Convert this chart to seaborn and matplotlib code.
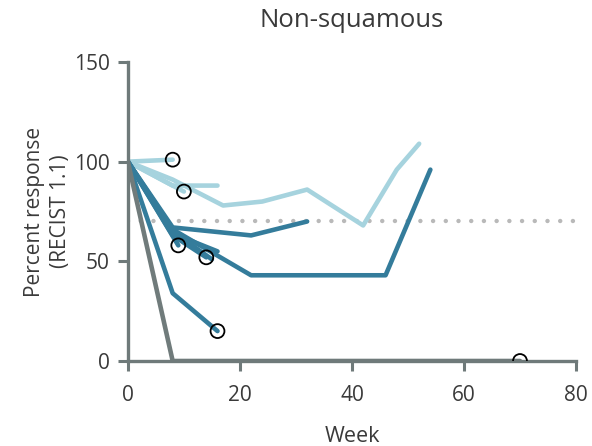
import numpy as np
import pandas as pd
import matplotlib
matplotlib.use("Agg")
import matplotlib.pyplot as plt
import seaborn as sns

sns.set_style("white")
plt.rcParams['font.family'] = ['Open Sans', 'DejaVu Sans']

# Patient series: weeks and percent response
light_weeks = [[0, 8], [0, 10], [0, 8, 16], [0, 8, 17, 24, 32, 42, 48, 52]]
light_vals = [[100, 101], [100, 85], [100, 88, 88], [100, 91, 78, 80, 86, 68, 96, 109]]
light_end_marker = [True, True, False, False]

dark_weeks = [[0, 8, 22, 32], [0, 8, 22, 46, 54], [0, 8, 16], [0, 8, 14], [0, 9], [0, 8, 15], [0, 8, 16]]
dark_vals = [[100, 67, 63, 70], [100, 66, 43, 43, 96], [100, 64, 55], [100, 63, 52], [100, 58], [100, 65, 51], [100, 34, 15]]
dark_end_marker = [False, False, False, True, True, False, True]

gray_weeks = [[0, 8, 70]]
gray_vals = [[100, 0, 0]]
gray_end_marker = [True]

threshold = 70
x_ticks = [0, 20, 40, 60, 80]
y_ticks = [0, 50, 100, 150]
title = "Non-squamous"
xlabel = "Week"
ylabel = "Percent response\n(RECIST 1.1)"

C_LIGHT = "#a6d3de"
C_DARK = "#347c9b"
C_GRAY = "#707b7b"
C_AXIS = "#6f7a7a"
C_TEXT = "#3a3a3a"

rows = []
pid = 0
for group, W, V in [("light", light_weeks, light_vals), ("dark", dark_weeks, dark_vals), ("gray", gray_weeks, gray_vals)]:
    for w, v in zip(W, V):
        for a, b in zip(w, v):
            rows.append({"pid": pid, "group": group, "week": a, "resp": b})
        pid += 1
df = pd.DataFrame(rows)

fig = plt.figure(figsize=(5.92, 4.46), dpi=100)
ax = fig.add_axes([0.216, 0.1906, 0.757, 0.6704])

ax.plot([0, 80], [threshold, threshold], color="#b9b9b9", lw=3.2,
        linestyle=(0, (0.01, 2.85)), dash_capstyle="round", zorder=1)

palette = {"light": C_LIGHT, "dark": C_DARK, "gray": C_GRAY}
sns.lineplot(data=df, x="week", y="resp", hue="group", units="pid", estimator=None,
             palette=palette, lw=3.3, legend=False, ax=ax, sort=False, zorder=2)

ends_x, ends_y = [], []
for W, V, M in [(light_weeks, light_vals, light_end_marker), (dark_weeks, dark_vals, dark_end_marker), (gray_weeks, gray_vals, gray_end_marker)]:
    for w, v, m in zip(W, V, M):
        if m:
            ends_x.append(w[-1]); ends_y.append(v[-1])
sns.scatterplot(x=ends_x, y=ends_y, ax=ax, s=100, facecolor="none", edgecolor="black",
                linewidth=1.3, zorder=5)

ax.set_xlim(0, 80)
ax.set_ylim(0, 150)
ax.set_xticks(x_ticks)
ax.set_yticks(y_ticks)
for s in ["top", "right"]:
    ax.spines[s].set_visible(False)
for s in ["left", "bottom"]:
    ax.spines[s].set_color(C_AXIS)
    ax.spines[s].set_linewidth(2.4)
ax.tick_params(axis="both", direction="out", length=7, width=2.2, color=C_AXIS,
               labelsize=15, labelcolor=C_TEXT, pad=6, bottom=True, left=True)
ax.tick_params(axis="x", pad=10)
ax.set_xlabel(xlabel, fontsize=15.5, color=C_TEXT, labelpad=15)
ax.set_ylabel(ylabel, fontsize=15, color=C_TEXT, labelpad=2, linespacing=1.3)
ax.set_title(title, fontsize=18.5, color=C_TEXT, pad=25)

fig.savefig("out.png", dpi=100)
